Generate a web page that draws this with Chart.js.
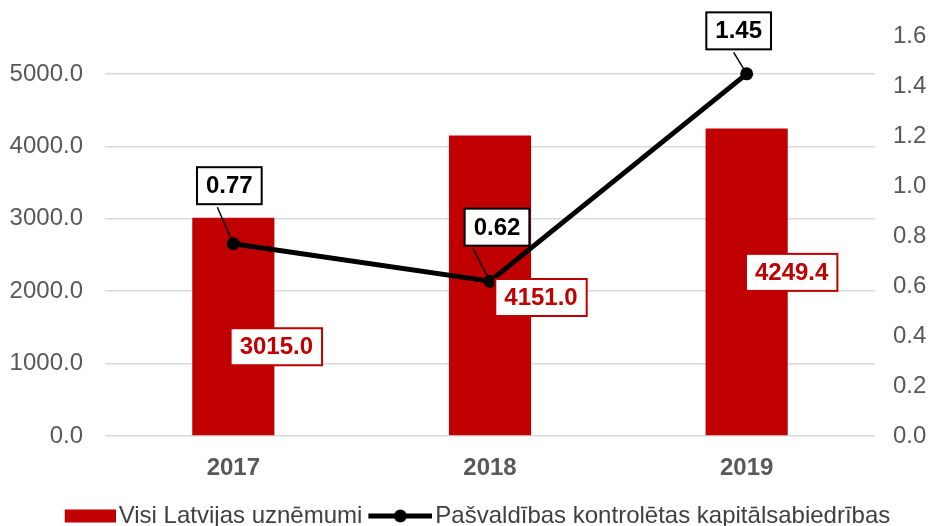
<!DOCTYPE html>
<html>
<head>
<meta charset="utf-8">
<script src="https://cdn.jsdelivr.net/npm/chart.js@4.4.0/dist/chart.umd.min.js"></script>
<style>
  html, body { margin: 0; padding: 0; background: #fff; }
  #wrap { width: 940px; height: 526px; }
</style>
</head>
<body>
<div id="wrap"><canvas id="chart" width="940" height="526"></canvas></div>
<script>
// chart data
const years = ['2017', '2018', '2019'];
const allCompanies = [3015.0, 4151.0, 4249.4];
const municipalCompanies = [0.77, 0.62, 1.45];
const leftTicks = [0, 1000, 2000, 3000, 4000, 5000];
const rightTicks = [0, 0.2, 0.4, 0.6, 0.8, 1.0, 1.2, 1.4, 1.6];
const seriesNames = ['Visi Latvijas uznēmumi', 'Pašvaldības kontrolētas kapitālsabiedrības'];

// where the value boxes sit, relative to their mark (px)
const barLabelOffsets = [[43, 129], [51, 162], [45, 144]];
const lineLabelOffsets = [[-4, -58], [7, -54], [-8, -43]];
const leaderStartX = [-12, -24, -5];

const FONT = '"Liberation Sans", Arial, sans-serif';
const RED = '#C00000';

// legend icons
function legendIcon(kind) {
  const c = document.createElement('canvas');
  c.width = 75; c.height = 16;
  const g = c.getContext('2d');
  if (kind === 'bar') {
    g.fillStyle = RED;
    g.fillRect(24, 1.5, 51, 13);
  } else {
    g.strokeStyle = '#000';
    g.lineWidth = 5;
    g.beginPath(); g.moveTo(11, 8); g.lineTo(75, 8); g.stroke();
    g.fillStyle = '#000';
    g.beginPath(); g.arc(43, 8, 6.5, 0, Math.PI * 2); g.fill();
  }
  return c;
}
const legendIcons = [legendIcon('bar'), legendIcon('line')];

function drawBox(ctx, text, cx, cy, color, lineColor) {
  const w = ctx.measureText(text).width + 18;
  const h = 37;
  ctx.fillStyle = '#fff';
  ctx.fillRect(cx - w / 2, cy - h / 2, w, h);
  ctx.lineWidth = 2;
  ctx.strokeStyle = lineColor;
  ctx.strokeRect(cx - w / 2, cy - h / 2, w, h);
  ctx.fillStyle = color;
  ctx.fillText(text, cx, cy + 1);
  return h;
}

const valueBoxes = {
  id: 'valueBoxes',
  afterDatasetsDraw(chart) {
    const ctx = chart.ctx;
    const bars = chart.getDatasetMeta(0).data;
    const pts = chart.getDatasetMeta(1).data;
    ctx.save();
    ctx.font = 'bold 24px ' + FONT;
    ctx.textAlign = 'center';
    ctx.textBaseline = 'middle';

    bars.forEach((b, i) => {
      const [dx, dy] = barLabelOffsets[i];
      drawBox(ctx, allCompanies[i].toFixed(1), b.x + dx, b.y + dy, RED, RED);
    });

    pts.forEach((p, i) => {
      const [dx, dy] = lineLabelOffsets[i];
      const cx = p.x + dx, cy = p.y + dy;
      // leader line
      ctx.beginPath();
      ctx.lineWidth = 1.5;
      ctx.strokeStyle = '#000';
      ctx.moveTo(cx + leaderStartX[i], cy + 18.5 + 3);
      ctx.lineTo(p.x, p.y);
      ctx.stroke();
      drawBox(ctx, municipalCompanies[i].toFixed(2), cx, cy, '#000', '#000');
    });
    ctx.restore();
  }
};

const ctx = document.getElementById('chart').getContext('2d');
new Chart(ctx, {
  type: 'bar',
  data: {
    labels: years,
    datasets: [
      {
        type: 'bar',
        label: seriesNames[0],
        data: allCompanies,
        backgroundColor: RED,
        barPercentage: 0.32,
        categoryPercentage: 1,
        yAxisID: 'y',
        order: 2
      },
      {
        type: 'line',
        label: seriesNames[1],
        data: municipalCompanies,
        borderColor: '#000',
        borderWidth: 5,
        pointRadius: 6.5,
        pointBackgroundColor: '#000',
        pointBorderWidth: 0,
        tension: 0,
        yAxisID: 'y1',
        order: 1
      }
    ]
  },
  options: {
    responsive: false,
    animation: false,
    devicePixelRatio: 1,
    layout: { padding: { top: 33, left: 0, right: 0, bottom: -12 } },
    plugins: {
      tooltip: { enabled: false },
      legend: {
        position: 'bottom',
        labels: {
          usePointStyle: true,
          pointStyleWidth: 57,
          padding: 4,
          color: '#404040',
          font: { size: 24, family: FONT },
          generateLabels(chart) {
            return chart.data.datasets.map((ds, i) => ({
              text: ds.label,
              pointStyle: legendIcons[i],
              fontColor: '#404040',
              datasetIndex: i,
              hidden: false,
              lineWidth: 0
            }));
          }
        }
      }
    },
    scales: {
      x: {
        grid: { display: false, drawTicks: false },
        border: { display: false },
        ticks: {
          color: '#595959',
          padding: 18,
          font: { size: 24, weight: 'bold', family: FONT }
        },
        afterFit(axis) { axis.height = 64; }
      },
      y: {
        position: 'left',
        min: 0,
        max: 5520,
        grid: { color: '#d9d9d9', lineWidth: 1.5, drawTicks: false },
        border: { display: false },
        afterBuildTicks(axis) { axis.ticks = leftTicks.map(v => ({ value: v })); },
        ticks: {
          color: '#595959',
          padding: 22,
          font: { size: 24, family: FONT },
          callback: v => v.toFixed(1)
        },
        afterFit(axis) { axis.width = 105; }
      },
      y1: {
        position: 'right',
        min: 0,
        max: 1.6,
        grid: { display: false, drawTicks: false },
        border: { display: false },
        afterBuildTicks(axis) { axis.ticks = rightTicks.map(v => ({ value: v })); },
        ticks: {
          color: '#595959',
          padding: 18,
          font: { size: 24, family: FONT },
          callback: v => v.toFixed(1)
        },
        afterFit(axis) { axis.width = 65; }
      }
    }
  },
  plugins: [valueBoxes]
});
</script>
</body>
</html>
